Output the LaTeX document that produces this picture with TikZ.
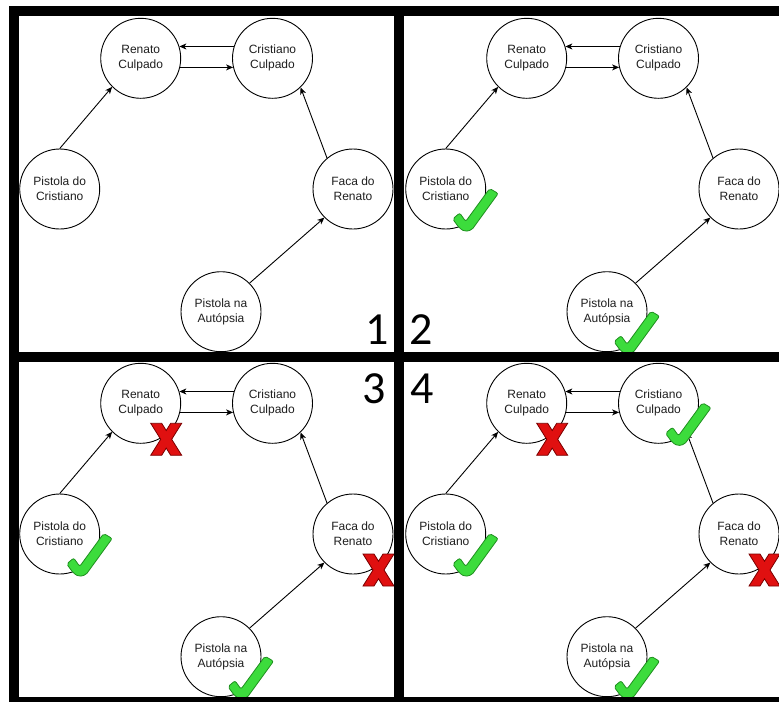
\documentclass[tikz,border=0pt]{standalone}
\usepackage{fontspec}
\setmainfont{Liberation Sans}
\newfontfamily\digitfont{Carlito}
\usetikzlibrary{arrows.meta}

\definecolor{okgreen}{HTML}{3CDC3C}
\definecolor{okedge}{HTML}{1F8F1F}
\definecolor{nored}{HTML}{E01010}
\definecolor{noedge}{HTML}{7A0000}

\tikzset{
  fact/.style={circle, draw=black, line width=0.9pt, fill=white,
    minimum size=80pt, inner sep=0pt, align=center,
    font=\fontsize{12}{15}\selectfont, text=black!88},
  link/.style={line width=0.9pt, draw=black,
    -{Stealth[length=7pt,width=6pt,inset=2pt]}},
  panelnum/.style={font=\digitfont\fontsize{46}{50}\selectfont,
    anchor=base, inner sep=0pt},
  panelrule/.style={fill=black},
  okmark/.pic={
    \filldraw[fill=okgreen, draw=okedge, line width=0.8pt, rounded corners=2pt]
      (7,-30) -- (14,-24) -- (20,-32.4) -- (44,0.5) -- (52.5,-4.5)
      -- (26,-41) -- (19,-42.5) -- (13.6,-39) -- cycle;},
  nomark/.pic={
    \filldraw[fill=nored, draw=noedge, line width=0.8pt, shift={(25.5,-36)}]
      (-15.5,16) -- (-4.5,16) -- (0,8.8) -- (4.5,16) -- (15.5,16) -- (5.5,0)
      -- (15.5,-16) -- (4.5,-16) -- (0,-8.8) -- (-4.5,-16) -- (-15.5,-16)
      -- (-5.5,0) -- cycle;}
}

% one panel of the evidence graph, shifted by (#1,#2), nodes prefixed #3-
\newcommand\casepanel[3]{%
  \begin{scope}[shift={(#1,#2)}, name prefix=#3-]
    \node[fact] (rc) at (140.7,-58.3) {Renato\\Culpado};
    \node[fact] (cc) at (272.5,-58.3) {Cristiano\\Culpado};
    \node[fact] (pc) at (59.7,-189) {Pistola do\\Cristiano};
    \node[fact] (fr) at (353,-189) {Faca do\\Renato};
    \node[fact] (pa) at (221,-311.7) {Pistola na\\Autópsia};
    \draw[link] (cc.163) -- (rc.17);
    \draw[link] (rc.-13.6) -- (cc.193.6);
    \draw[link] (pc.north) -- (rc.south west);
    \draw[link] (fr.130) -- (cc.-46);
    \draw[link] (pa.north east) -- (fr.south west);
  \end{scope}}

\begin{document}
\begin{tikzpicture}[x=1pt,y=1pt]
  \useasboundingbox (0,0) rectangle (779,-702);
  \fill[white] (0,0) rectangle (779,-702);

  \casepanel{0}{0}{p1}
  \casepanel{386}{0}{p2}
  \casepanel{0}{-345}{p3}
  \casepanel{386}{-345}{p4}

  % panel 2
  \pic at (p2-pc) {okmark};
  \pic at (p2-pa) {okmark};
  % panel 3
  \pic at (p3-rc) {nomark};
  \pic at (p3-pc) {okmark};
  \pic at (p3-fr) {nomark};
  \pic at (p3-pa) {okmark};
  % panel 4
  \pic at (p4-rc) {nomark};
  \pic at (p4-cc) {okmark};
  \pic at (p4-pc) {okmark};
  \pic at (p4-fr) {nomark};
  \pic at (p4-pa) {okmark};

  % frame and dividers
  \fill[panelrule] (9,-6) rectangle (779,-16);
  \fill[panelrule] (9,-6) rectangle (19,-702);
  \fill[panelrule] (394,-6) rectangle (404,-702);
  \fill[panelrule] (9,-352) rectangle (779,-362);
  \fill[panelrule] (9,-697) rectangle (779,-702);

  % panel numbers
  \node[panelnum] (n1) at (377,-344) {1};
  \node[panelnum] (n2) at (421,-344) {2};
  \node[panelnum] (n3) at (374,-403) {3};
  \node[panelnum] (n4) at (422,-403) {4};
\end{tikzpicture}
\end{document}
